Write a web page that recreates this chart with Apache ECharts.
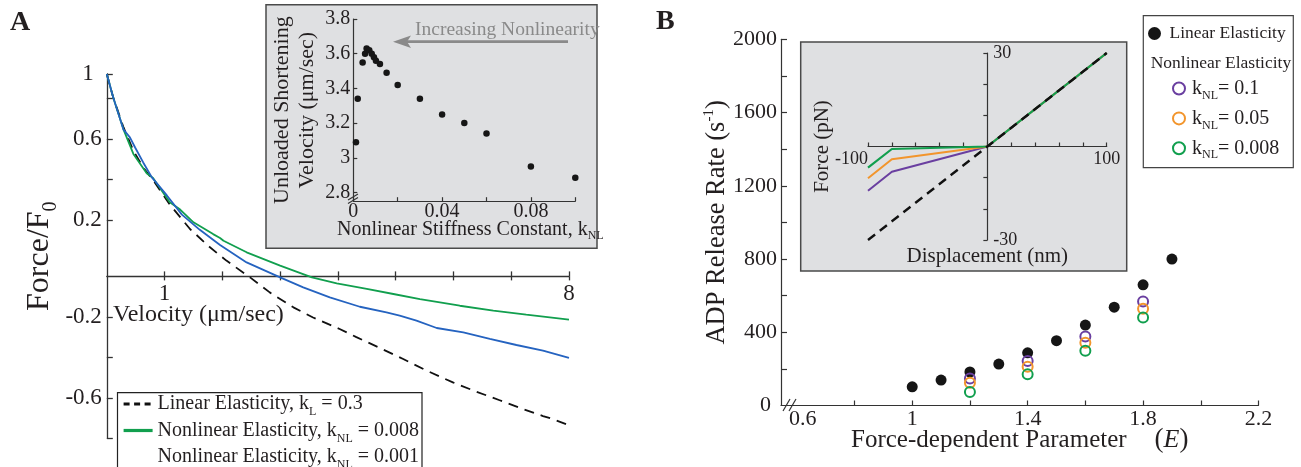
<!DOCTYPE html>
<html><head><meta charset="utf-8">
<script src="https://cdn.jsdelivr.net/npm/echarts@6/dist/echarts.min.js"></script>
<style>html,body{margin:0;padding:0;background:#fff}#c{width:1301px;height:467px}</style>
</head><body><div id="c"></div>
<script>
// ---------- Panel A: force-velocity curves ----------
const linearVel   = [0, 0.11, 0.29, 0.46, 0.63, 0.83, 1.09, 1.44, 1.78, 2.07, 2.48, 2.82, 3.23, 3.57, 4.03, 4.32, 4.7, 5.13, 5.53, 6.0, 6.4, 6.8, 7.2, 7.55, 7.72, 8.0];
const linearForce = [1.0, 0.885, 0.736, 0.621, 0.538, 0.464, 0.355, 0.234, 0.145, 0.078, -0.005, -0.079, -0.153, -0.203, -0.26, -0.30, -0.35, -0.408, -0.465, -0.525, -0.57, -0.612, -0.655, -0.69, -0.705, -0.736];
const nl008Vel    = [0, 0.11, 0.29, 0.46, 0.69, 0.80, 1.09, 1.27, 1.5, 1.84, 1.96, 2.02, 2.42, 3.0, 3.55, 3.98, 4.5, 4.96, 5.42, 6.11, 6.69, 7.26, 8.0];
const nl008Force  = [1.0, 0.885, 0.725, 0.605, 0.51, 0.486, 0.366, 0.33, 0.267, 0.209, 0.19, 0.176, 0.119, 0.053, -0.005, -0.035, -0.062, -0.087, -0.112, -0.145, -0.169, -0.189, -0.214];
const nl001Vel    = [0, 0.11, 0.29, 0.40, 0.49, 0.63, 0.78, 1.04, 1.3, 1.61, 1.96, 2.42, 3.0, 3.4, 3.86, 4.38, 4.84, 5.07, 5.36, 5.71, 6.17, 6.63, 7.09, 7.55, 8.0];
const nl001Force  = [1.0, 0.885, 0.725, 0.687, 0.637, 0.563, 0.489, 0.40, 0.305, 0.23, 0.155, 0.069, -0.005, -0.054, -0.104, -0.15, -0.178, -0.194, -0.219, -0.255, -0.277, -0.309, -0.339, -0.367, -0.403];
const aXTicks = [1, 2, 3, 4, 5, 6, 7, 8];
const aXLabels = [1, 8];
const aYTicksLow = [-0.8, -0.6, -0.4, -0.2, 1];
const aYLabelsLow = [-0.6, -0.2, 1];
const aYTicksHigh = [0.2, 0.4, 0.6, 0.8];
const aYLabelsHigh = [0.2, 0.6];

// ---------- Panel A inset: unloaded shortening velocity ----------
const kNL = [0.0012, 0.002, 0.0042, 0.0053, 0.006, 0.0072, 0.0083, 0.0093, 0.0102, 0.012, 0.015, 0.020, 0.030, 0.040, 0.050, 0.060, 0.080, 0.100];
const vUnloaded = [3.09, 3.34, 3.55, 3.60, 3.63, 3.62, 3.60, 3.58, 3.56, 3.54, 3.49, 3.42, 3.34, 3.25, 3.20, 3.14, 2.95, 2.885];
const insAXTicks = [0, 0.02, 0.04, 0.06, 0.08, 0.1];
const insAXLabels = [0, 0.04, 0.08];
const insAYTicks = [2.8, 3, 3.2, 3.4, 3.6, 3.8];

// ---------- Panel B: ADP release rate ----------
const eLinear = [1.0, 1.1, 1.2, 1.3, 1.4, 1.5, 1.6, 1.7, 1.8, 1.9];
const adpLinear = [102, 139, 183, 226, 288, 354, 439, 537, 659, 800];
const eNonlinear = [1.2, 1.4, 1.6, 1.8];
const adpK01 = [148, 243, 377, 568];
const adpK005 = [124, 212, 343, 528];
const adpK0008 = [74, 170, 299, 481];
const bXTicks = [0.8, 1.0, 1.2, 1.4, 1.6, 1.8, 2.0, 2.2];
const bXLabels = [0.6, 1, 1.4, 1.8, 2.2];
const bYTicks = [200, 400, 600, 800, 1000, 1200, 1400, 1600, 1800, 2000];
const bYLabels = [0, 400, 800, 1200, 1600, 2000];

// ---------- Panel B inset: force-displacement ----------
const disp = [-100, -80, 0, 100];
const fLinear = [-30, -24, 0, 30];
const fK01 = [-14.2, -8.1, 0, 30];
const fK005 = [-10.2, -4.1, 0, 30];
const fK0008 = [-6.8, -0.8, 0, 30];
const insBXTicks = [-100, -80, -60, -40, -20, 0, 20, 40, 60, 80, 100];
const insBXLabels = [-100, 100];
const insBYTicks = [-30, -20, -10, 0, 10, 20, 30];
const insBYLabels = [-30, 30];

const F = '"Liberation Serif", "Times New Roman", serif';
const INK = '#231f20';
const AX = '#333333';
const GREEN = '#119f4e', BLUE = '#2563c0', PURPLE = '#6a3fa0', ORANGE = '#f2952c';
const SHIFT = 0.079; // offset of the upper tick set on the left axis of panel A

// grid geometry
const gA  = {left: 106.8, top: 74, width: 462.2, height: 364.3};
const gAi = {left: 353.3, top: 19, width: 222, height: 182.2};
const gB  = {left: 781, top: 39.3, width: 477.5, height: 366.2};
const gBi = {left: 868, top: 53, width: 238.7, height: 187};
const A_Y = [-0.8, 1], BI_X = [-100, 100], BI_Y = [-30, 30];
// axis offsets that put the crossing axes on the zero lines
const zeroOff = (range, size) => -(0 - range[0]) / (range[1] - range[0]) * size;
const aXOff = zeroOff(A_Y, gA.height);
const biXOff = zeroOff(BI_Y, gBi.height);
const biYOff = zeroOff(BI_X, gBi.width);

const zip = (a, b) => a.map((v, i) => [v, b[i]]);
const subFmt = name => {
  const m = name.match(/^(.*k)_(\w+)(.*)$/);
  return m ? `{n|${m[1]}}{s|${m[2]}}{n|${m[3]}}` : `{n|${name}}`;
};
const num = v => String(+(+v).toFixed(4));
const lbl = (size, extra) => Object.assign({fontFamily: F, fontSize: size, color: INK}, extra || {});
const G = o => Object.assign({outerBoundsMode: 'none', containLabel: false}, o);

const A_NAMES = ['Linear Elasticity, k_L = 0.3', 'Nonlinear Elasticity, k_NL = 0.008', 'Nonlinear Elasticity, k_NL = 0.001'];
const B_NAMES = ['Linear Elasticity', 'k_NL= 0.1', 'k_NL= 0.05', 'k_NL= 0.008'];

const chart = echarts.init(document.getElementById('c'), null, {renderer: 'canvas'});
const option = {
  animation: false,
  backgroundColor: '#fff',
  grid: [G(gA), G(gAi), G(gB), G(gBi)],
  xAxis: [
    {gridIndex: 0, type: 'value', min: 0, max: 8, position: 'bottom', offset: aXOff, nameMoveOverlap: false,
     axisLine: {show: true, onZero: false, lineStyle: {color: AX, width: 1.3}},
     axisTick: {show: true, inside: true, length: 5, customValues: aXTicks, lineStyle: {color: AX, width: 1.3}},
     axisLabel: lbl(23, {customValues: aXLabels, margin: 6, formatter: num}), splitLine: {show: false}},
    {gridIndex: 0, type: 'value', min: 0, max: 8, position: 'bottom', offset: aXOff,
     axisLine: {show: false, onZero: false},
     axisTick: {show: true, inside: false, length: 4, customValues: aXTicks, lineStyle: {color: AX, width: 1.3}},
     axisLabel: {show: false}, splitLine: {show: false}},
    {gridIndex: 1, type: 'value', min: 0, max: 0.1, position: 'bottom', nameMoveOverlap: false,
     axisLine: {show: true, onZero: false, lineStyle: {color: AX, width: 1.2}},
     axisTick: {show: true, inside: true, length: 4, customValues: insAXTicks, lineStyle: {color: AX, width: 1.2}},
     axisLabel: lbl(20, {customValues: insAXLabels, margin: 1, formatter: num}), splitLine: {show: false},
     name: '{n|Nonlinear Stiffness Constant, k}{s|NL}', nameLocation: 'middle', nameGap: 18,
     nameTextStyle: {padding: [0, 0, 0, 12], rich: {
       n: lbl(20, {lineHeight: 22}), s: lbl(12, {lineHeight: 22, padding: [6, 0, -6, 0]})}}},
    {gridIndex: 2, type: 'value', min: 0.5453, max: 2.2, position: 'bottom', nameMoveOverlap: false,
     axisLine: {show: true, onZero: false, lineStyle: {color: AX, width: 1.2}},
     axisTick: {show: true, inside: true, length: 5, customValues: bXTicks, lineStyle: {color: AX, width: 1.2}},
     axisLabel: lbl(22, {customValues: bXLabels, margin: 3,
       formatter: v => (+v === 0.6 ? '{a|0.6}' : num(v)),
       rich: {a: lbl(22, {padding: [0, 0, 0, 12]})}}), splitLine: {show: false},
     name: '{n|Force-dependent Parameter}{p|(}{i|E}{q|)}', nameLocation: 'middle', nameGap: 20.5,
     nameTextStyle: {rich: {
       n: lbl(25, {lineHeight: 28}), p: lbl(27, {lineHeight: 28, padding: [0, 0, 0, 28]}),
       q: lbl(27, {lineHeight: 28}), i: lbl(26, {lineHeight: 28, fontStyle: 'italic'})}}},
    {gridIndex: 3, type: 'value', min: BI_X[0], max: BI_X[1], position: 'bottom', offset: biXOff, nameMoveOverlap: false,
     axisLine: {show: true, onZero: false, lineStyle: {color: AX, width: 1.2}},
     axisTick: {show: true, inside: true, length: 4, customValues: insBXTicks, lineStyle: {color: AX, width: 1.2}},
     axisLabel: lbl(18, {customValues: insBXLabels, margin: 4, alignMinLabel: 'right', formatter: num}), splitLine: {show: false},
     name: 'Displacement (nm)', nameLocation: 'middle', nameGap: 98,
     nameTextStyle: lbl(21, {lineHeight: 24})}
  ],
  yAxis: [
    {gridIndex: 0, type: 'value', min: A_Y[0], max: A_Y[1], position: 'left', nameMoveOverlap: false,
     axisLine: {show: true, onZero: false, lineStyle: {color: AX, width: 1.3}},
     axisTick: {show: true, inside: true, length: 6, customValues: aYTicksLow, lineStyle: {color: AX, width: 1.3}},
     axisLabel: lbl(23, {customValues: aYLabelsLow, margin: 5,
       formatter: v => (+v === 1 ? '{a|1}' : num(v)),
       rich: {a: lbl(23, {padding: [0, 8, 0, 0]})}}), splitLine: {show: false},
     name: '{n|Force/F}{s|0}', nameLocation: 'middle', nameGap: 51, nameRotate: 90,
     nameTextStyle: {rich: {n: lbl(32, {lineHeight: 32}), s: lbl(20, {lineHeight: 32, padding: [11, 0, -11, 0]})}}},
    {gridIndex: 0, type: 'value', min: A_Y[0] - SHIFT, max: A_Y[1] - SHIFT, position: 'left',
     axisLine: {show: false, onZero: false},
     axisTick: {show: true, inside: true, length: 6, customValues: aYTicksHigh, lineStyle: {color: AX, width: 1.3}},
     axisLabel: lbl(23, {customValues: aYLabelsHigh, margin: 5, formatter: num}), splitLine: {show: false}},
    {gridIndex: 1, type: 'value', min: 2.75, max: 3.8, position: 'left', nameMoveOverlap: false,
     axisLine: {show: true, onZero: false, lineStyle: {color: AX, width: 1.2}},
     axisTick: {show: true, inside: true, length: 4, customValues: insAYTicks, lineStyle: {color: AX, width: 1.2}},
     axisLabel: lbl(20, {customValues: insAYTicks, margin: 3, formatter: num}), splitLine: {show: false},
     name: 'Unloaded Shortening\nVelocity (\u03bcm/sec)', nameLocation: 'middle', nameGap: 34, nameRotate: 90,
     nameTextStyle: lbl(22, {lineHeight: 25})},
    {gridIndex: 2, type: 'value', min: 0, max: 2000, position: 'left', nameMoveOverlap: false,
     axisLine: {show: true, onZero: false, lineStyle: {color: AX, width: 1.2}},
     axisTick: {show: true, inside: true, length: 6, customValues: bYTicks, lineStyle: {color: AX, width: 1.2}},
     axisLabel: lbl(22, {customValues: bYLabels, margin: 4,
       formatter: v => (+v === 0 ? '{a|0}' : num(v)),
       rich: {a: lbl(22, {padding: [0, 6, 0, 0]})}}), splitLine: {show: false},
     name: '{n|ADP Release Rate (s}{u|-1}{n|)}', nameLocation: 'middle', nameGap: 50, nameRotate: 90,
     nameTextStyle: {rich: {n: lbl(26.5, {lineHeight: 28}), u: lbl(15, {lineHeight: 28, padding: [-8, 0, 8, 0]})}}},
    {gridIndex: 3, type: 'value', min: BI_Y[0], max: BI_Y[1], position: 'left', offset: biYOff, nameMoveOverlap: false,
     axisLine: {show: true, onZero: false, lineStyle: {color: AX, width: 1.2}},
     axisTick: {show: true, inside: false, length: 4, customValues: insBYTicks, lineStyle: {color: AX, width: 1.2}},
     axisLabel: lbl(18, {customValues: insBYLabels, margin: 6, inside: true, formatter: num}), splitLine: {show: false},
     name: 'Force (pN)', nameLocation: 'middle', nameGap: 153, nameRotate: 90,
     nameTextStyle: lbl(21, {lineHeight: 24})}
  ],
  legend: [
    {left: 122, top: 394, height: 90, orient: 'vertical', padding: 0, itemWidth: 29, itemHeight: 14, itemGap: 2.5,
     selectedMode: false, formatter: subFmt,
     textStyle: {fontFamily: F, color: INK, rich: {
       n: lbl(20, {lineHeight: 22}), s: lbl(12, {lineHeight: 22, padding: [8, 0, -8, 0]})}},
     data: [
       {name: A_NAMES[0], itemStyle: {opacity: 0}, lineStyle: {width: 3.2, type: [6, 4.5], color: '#111'}},
       {name: A_NAMES[1], itemStyle: {opacity: 0}, lineStyle: {width: 3.2}},
       {name: A_NAMES[2], lineStyle: {opacity: 0}, itemStyle: {opacity: 0}}
     ]},
    {left: 1148, top: 23.5, orient: 'vertical', padding: 0, itemWidth: 20, itemHeight: 13,
     selectedMode: false, textStyle: lbl(17.5, {lineHeight: 20}), data: [B_NAMES[0]]},
    {left: 1172, top: 78.5, height: 100, orient: 'vertical', padding: 0, itemWidth: 16, itemHeight: 12, itemGap: 6.9,
     selectedMode: false, formatter: subFmt,
     textStyle: {fontFamily: F, color: INK, rich: {
       n: lbl(20, {lineHeight: 24}), s: lbl(12, {lineHeight: 24, padding: [7, 0, -7, 0]})}},
     data: [B_NAMES[1], B_NAMES[2], B_NAMES[3]]}
  ],
  series: [
    // Panel A main
    {name: A_NAMES[0], type: 'line', xAxisIndex: 0, yAxisIndex: 0, data: zip(linearVel, linearForce),
     symbol: 'none', lineStyle: {color: '#111', width: 1.8, type: [10, 7]}, itemStyle: {color: '#111'}, z: 2},
    {name: A_NAMES[1], type: 'line', xAxisIndex: 0, yAxisIndex: 0, data: zip(nl008Vel, nl008Force),
     symbol: 'none', lineStyle: {color: GREEN, width: 1.8}, itemStyle: {color: GREEN}, z: 3},
    {name: A_NAMES[2], type: 'line', xAxisIndex: 0, yAxisIndex: 0, data: zip(nl001Vel, nl001Force),
     symbol: 'none', lineStyle: {color: BLUE, width: 1.8}, itemStyle: {color: BLUE}, z: 4},
    // Panel A inset
    {name: 'Unloaded shortening velocity', type: 'scatter', xAxisIndex: 2, yAxisIndex: 2,
     data: zip(kNL, vUnloaded), symbol: 'circle', symbolSize: 6.5, itemStyle: {color: '#161616', opacity: 1}},
    // Panel B main
    {name: B_NAMES[0], type: 'scatter', xAxisIndex: 3, yAxisIndex: 3, data: zip(eLinear, adpLinear),
     symbol: 'circle', symbolSize: 11, itemStyle: {color: '#151515', opacity: 1}},
    {name: B_NAMES[1], type: 'scatter', xAxisIndex: 3, yAxisIndex: 3, data: zip(eNonlinear, adpK01),
     symbol: 'circle', symbolSize: 10, itemStyle: {color: 'rgba(0,0,0,0)', borderColor: PURPLE, borderWidth: 2, opacity: 1}},
    {name: B_NAMES[2], type: 'scatter', xAxisIndex: 3, yAxisIndex: 3, data: zip(eNonlinear, adpK005),
     symbol: 'circle', symbolSize: 10, itemStyle: {color: 'rgba(0,0,0,0)', borderColor: ORANGE, borderWidth: 2, opacity: 1}},
    {name: B_NAMES[3], type: 'scatter', xAxisIndex: 3, yAxisIndex: 3, data: zip(eNonlinear, adpK0008),
     symbol: 'circle', symbolSize: 10, itemStyle: {color: 'rgba(0,0,0,0)', borderColor: GREEN, borderWidth: 2, opacity: 1}},
    // Panel B inset
    {name: 'inset k 0.1', type: 'line', xAxisIndex: 4, yAxisIndex: 4, data: zip(disp, fK01),
     symbol: 'none', lineStyle: {color: PURPLE, width: 2}},
    {name: 'inset k 0.05', type: 'line', xAxisIndex: 4, yAxisIndex: 4, data: zip(disp, fK005),
     symbol: 'none', lineStyle: {color: ORANGE, width: 2}},
    {name: 'inset k 0.008', type: 'line', xAxisIndex: 4, yAxisIndex: 4, data: zip(disp, fK0008),
     symbol: 'none', lineStyle: {color: GREEN, width: 2.2}},
    {name: 'inset linear', type: 'line', xAxisIndex: 4, yAxisIndex: 4, data: zip(disp, fLinear),
     symbol: 'none', lineStyle: {color: '#111', width: 2.4, type: [9, 6]}, z: 5}
  ],
  graphic: [
    {type: 'rect', z: -1, silent: true, shape: {x: 266, y: 4.7, width: 331, height: 243.6},
     style: {fill: '#dfe0e2', stroke: '#4a4a4a', lineWidth: 1.5}},
    {type: 'rect', z: -1, silent: true, shape: {x: 800.7, y: 42, width: 326, height: 229},
     style: {fill: '#dfe0e2', stroke: '#4a4a4a', lineWidth: 1.5}},
    {type: 'rect', z: 3, silent: true, shape: {x: 117.5, y: 392.7, width: 304.5, height: 90},
     style: {fill: '#fff', stroke: '#222', lineWidth: 1.2}},
    {type: 'rect', z: 3, silent: true, shape: {x: 1143.3, y: 15.7, width: 150, height: 152},
     style: {fill: 'rgba(0,0,0,0)', stroke: '#444', lineWidth: 1.2}},
    {type: 'text', z: 5, left: 1150.7, top: 54, style: {text: 'Nonlinear Elasticity', font: '17.5px ' + F, fill: INK}},
    {type: 'text', z: 5, left: 10, top: 9, style: {text: 'A', font: 'bold 28px ' + F, fill: INK}},
    {type: 'text', z: 5, left: 656, top: 8, style: {text: 'B', font: 'bold 28px ' + F, fill: INK}},
    {type: 'text', z: 5, left: 113, top: 303, style: {text: 'Velocity (\u03bcm/sec)', font: '24px ' + F, fill: INK}},
    {type: 'text', z: 5, left: 415, top: 19.5, style: {text: 'Increasing Nonlinearity', font: '19.5px ' + F, fill: '#8a8a8a'}},
    {type: 'line', z: 5, silent: true, shape: {x1: 568, y1: 41.7, x2: 406, y2: 41.7}, style: {stroke: '#8a8a8a', lineWidth: 2.8}},
    {type: 'polygon', z: 5, silent: true, shape: {points: [[393, 41.7], [411, 35.5], [407, 41.7], [411, 47.9]]}, style: {fill: '#8a8a8a'}},
    {type: 'line', z: 5, silent: true, shape: {x1: 783, y1: 411, x2: 790, y2: 399}, style: {stroke: AX, lineWidth: 1.2}},
    {type: 'line', z: 5, silent: true, shape: {x1: 789, y1: 411, x2: 796, y2: 399}, style: {stroke: AX, lineWidth: 1.2}},
    {type: 'line', z: 5, silent: true, shape: {x1: 348, y1: 200, x2: 358, y2: 194}, style: {stroke: AX, lineWidth: 1.1}},
    {type: 'line', z: 5, silent: true, shape: {x1: 348, y1: 203.5, x2: 358, y2: 197.5}, style: {stroke: AX, lineWidth: 1.1}}
  ]
};
chart.setOption(option);
</script>
</body></html>
